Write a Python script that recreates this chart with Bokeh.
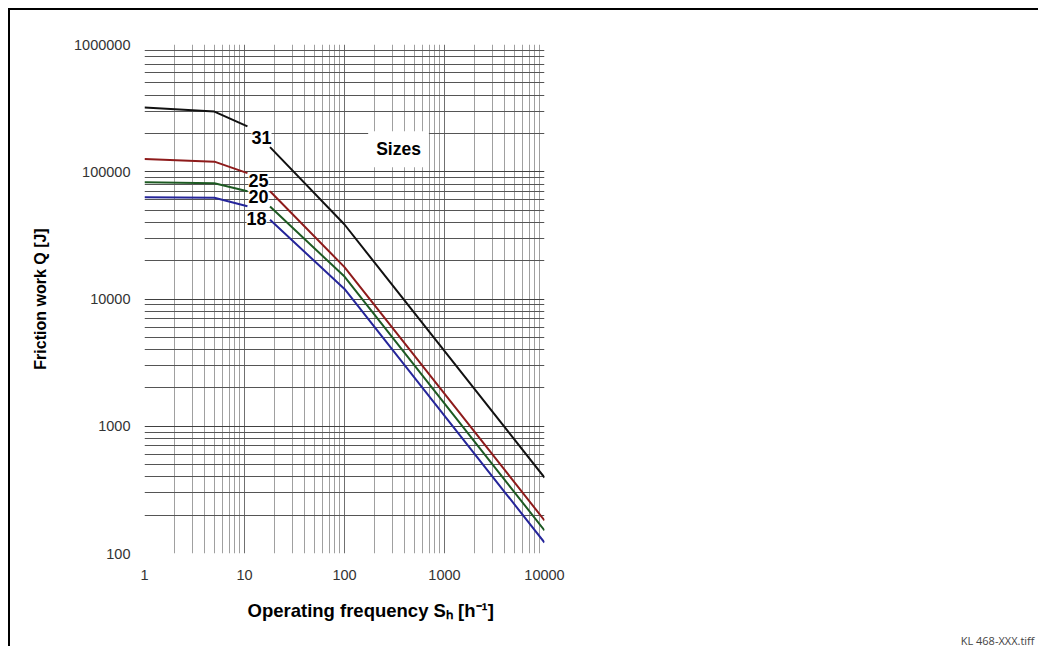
from bokeh.plotting import figure
from bokeh.models import Range1d, FixedTicker, NumeralTickFormatter, Label, Title
from bokeh.embed import file_html
from bokeh.resources import INLINE

# ---- data ----
sizes = ["31", "25", "20", "18"]
colors = ["#111111", "#8e1b1b", "#1d5a22", "#25259a"]

freq_low = [1, 5, 10.7]
freq_high = [18, 100, 10000]

q31_low = [320000, 297000, 227000]
q25_low = [126000, 120000, 97500]
q20_low = [82800, 81300, 70300]
q18_low = [63100, 62400, 53600]

q31_high = [156000, 38500, 395]
q25_high = [70300, 17800, 182]
q20_high = [53300, 15000, 152]
q18_high = [41900, 12000, 122]

x_ticks = [1, 10, 100, 1000, 10000]
y_ticks = [100, 1000, 10000, 100000, 1000000]

# label anchor points (data space)
label_x = [14.8, 13.8, 13.8, 13.2]
label_y = [186000, 85400, 64000, 43000]

FONT = "Liberation Sans"

p = figure(width=1030, height=638, x_axis_type="log", y_axis_type="log",
           x_range=Range1d(1, 10000), y_range=Range1d(100, 1000000),
           output_backend="svg", toolbar_location=None,
           min_border_left=134, min_border_right=496,
           min_border_top=34, min_border_bottom=95)
p.styles = {"margin-left": "8px", "margin-top": "8px",
            "border-left": "2px solid black", "border-top": "2px solid black"}
p.outline_line_color = None
p.background_fill_color = "white"
p.border_fill_color = "white"

def minor(ticks):
    out = []
    for t in ticks[:-1]:
        out += [t * k for k in range(2, 10)]
    return out

for ax, ticks in ((p.xaxis[0], x_ticks), (p.yaxis[0], y_ticks)):
    ax.ticker = FixedTicker(ticks=ticks, minor_ticks=minor(ticks))
    ax.formatter = NumeralTickFormatter(format="0")
    ax.axis_line_color = None
    ax.major_tick_line_color = None
    ax.minor_tick_line_color = None
    ax.major_label_text_font = FONT
    ax.major_label_text_font_size = "14.5px"
    ax.major_label_text_color = "#333333"
    ax.axis_label_text_font = FONT
    ax.axis_label_text_font_style = "bold"
    ax.axis_label_text_color = "#000000"

p.xaxis.major_label_standoff = 10
p.yaxis.major_label_standoff = 8
p.yaxis.axis_label = "Friction work Q [J]"
p.yaxis.axis_label_text_font_size = "16px"
p.yaxis.axis_label_standoff = 22

p.xgrid.grid_line_color = "#707070"
p.xgrid.minor_grid_line_color = "#a0a0a0"
p.ygrid.grid_line_color = "#404040"
p.ygrid.minor_grid_line_color = "#555555"
for g in (p.xgrid[0], p.ygrid[0]):
    g.grid_line_width = 1
    g.minor_grid_line_width = 1

lows = [q31_low, q25_low, q20_low, q18_low]
highs = [q31_high, q25_high, q20_high, q18_high]
for name, col, lo, hi, lx, ly in zip(sizes, colors, lows, highs, label_x, label_y):
    p.line(freq_low, lo, line_color=col, line_width=2)
    p.line(freq_high, hi, line_color=col, line_width=2)
    p.add_layout(Label(x=lx, y=ly, text=name, text_align="center",
                       text_baseline="middle", text_font=FONT,
                       text_font_style="bold", text_font_size="18px",
                       text_color="black", background_fill_color="white",
                       background_fill_alpha=1.0))

p.add_layout(Label(x=347, y=150000, text="Sizes", text_align="center",
                   text_baseline="middle", text_font=FONT,
                   text_font_style="bold", text_font_size="17.5px",
                   text_color="black", background_fill_color="white",
                   background_fill_alpha=1.0, padding=8))

# x-axis title (offset to the right of the frame centre, as in the reference)
p.add_layout(Title(text="Operating frequency Sₕ [h⁻¹]", align="left",
                   offset=103, standoff=30, text_font=FONT,
                   text_font_style="bold", text_font_size="18.5px",
                   text_color="black"), "below")

p.add_layout(Title(text="KL 468-XXX.tiff", align="right", offset=-490,
                   standoff=-10, text_font="Open Sans", text_font_style="normal",
                   text_font_size="11px", text_color="#444444"), "below")

open("out.html", "w").write(file_html(p, INLINE))
